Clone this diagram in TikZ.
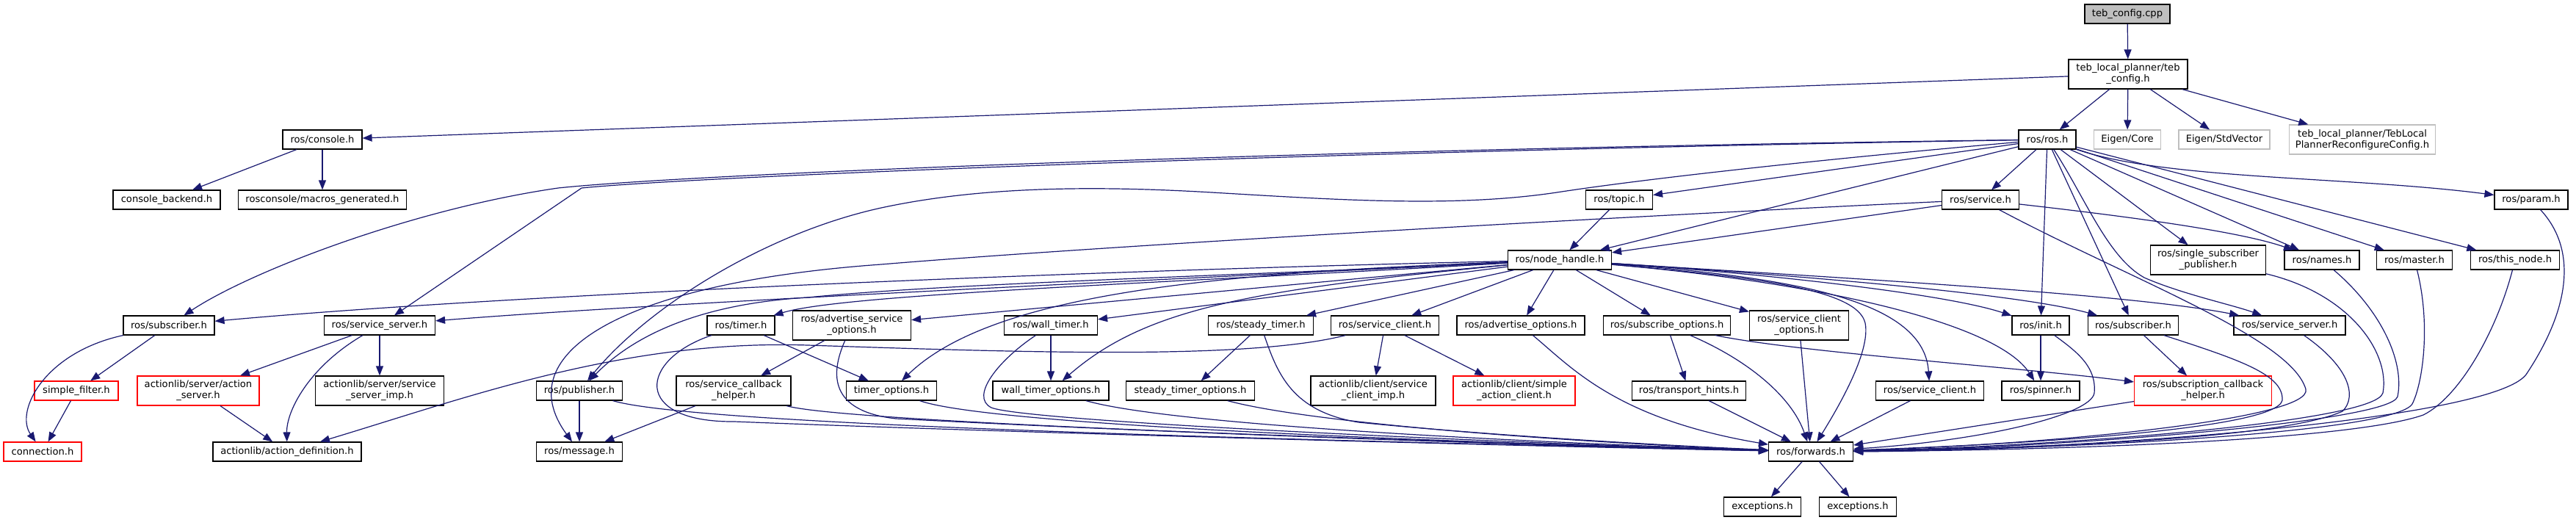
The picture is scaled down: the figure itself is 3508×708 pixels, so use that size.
\documentclass[tikz,border=0pt]{standalone}
\usepackage{fontspec}
\setmainfont{DejaVu Sans}
\usetikzlibrary{arrows.meta}
\definecolor{edgec}{RGB}{25,25,112}
\definecolor{grayb}{RGB}{191,191,191}
\definecolor{redb}{RGB}{255,0,0}
\begin{document}
\begin{tikzpicture}[x=1pt,y=-1pt,
  nd/.style={draw=black, line width=1.15pt, fill=white, inner sep=0pt, align=center,
             font=\fontsize{13.1}{15}\selectfont, minimum height=26pt},
  two/.style={minimum height=40pt},
  gr/.style={draw=grayb},
  rd/.style={draw=redb},
  e/.style={draw=edgec, line width=1.2pt, -{Triangle[length=13pt,width=10pt]}},
]
\useasboundingbox (0,0) rectangle (3508,708);
% row 0-2
\node[nd, fill=grayb, minimum width=116pt] (cpp) at (2897,19) {teb\_config.cpp};
\node[nd, two, minimum width=162pt] (tebh) at (2898,101) {teb\_local\_planner/teb\\\_config.h};
\node[nd, minimum width=108pt] (console) at (439,190) {ros/console.h};
\node[nd, minimum width=78pt] (ros) at (2788,190) {ros/ros.h};
\node[nd, gr, minimum width=91pt] (eigc) at (2897,190) {Eigen/Core};
\node[nd, gr, minimum width=124pt] (eigs) at (3029,190) {Eigen/StdVector};
\node[nd, gr, two, minimum width=199pt] (tebrc) at (3217,190) {teb\_local\_planner/TebLocal\\PlannerReconfigureConfig.h};
\node[nd, minimum width=146pt] (cback) at (227,272) {console\_backend.h};
\node[nd, minimum width=229pt] (macros) at (439,272) {rosconsole/macros\_generated.h};
\node[nd, minimum width=91pt] (topic) at (2205,272) {ros/topic.h};
\node[nd, minimum width=105pt] (service) at (2697,272) {ros/service.h};
\node[nd, minimum width=100pt] (param) at (3447,272) {ros/param.h};
% row node_handle
\node[nd, minimum width=141pt] (nh) at (2124,354) {ros/node\_handle.h};
\node[nd, two, minimum width=157pt] (ssp) at (3007,354) {ros/single\_subscriber\\\_publisher.h};
\node[nd, minimum width=102pt] (names) at (3162,354) {ros/names.h};
\node[nd, minimum width=103pt] (master) at (3288,354) {ros/master.h};
\node[nd, minimum width=121pt] (thisnode) at (3425,354) {ros/this\_node.h};
% row 3
\node[nd, minimum width=124pt] (sub1) at (230,443) {ros/subscriber.h};
\node[nd, minimum width=151pt] (ss1) at (517,443) {ros/service\_server.h};
\node[nd, minimum width=92pt] (timer) at (1009,443) {ros/timer.h};
\node[nd, two, minimum width=161pt] (aso) at (1160,443) {ros/advertise\_service\\\_options.h};
\node[nd, minimum width=127pt] (wtimer) at (1431,443) {ros/wall\_timer.h};
\node[nd, minimum width=143pt] (sttimer) at (1717,443) {ros/steady\_timer.h};
\node[nd, minimum width=147pt] (sc1) at (1886,443) {ros/service\_client.h};
\node[nd, minimum width=174pt] (advo) at (2071,443) {ros/advertise\_options.h};
\node[nd, minimum width=173pt] (subo) at (2270,443) {ros/subscribe\_options.h};
\node[nd, two, minimum width=135pt] (sco) at (2450,443) {ros/service\_client\\\_options.h};
\node[nd, minimum width=78pt] (init) at (2779,443) {ros/init.h};
\node[nd, minimum width=123pt] (sub2) at (2905,443) {ros/subscriber.h};
\node[nd, minimum width=152pt] (ss2) at (3118,443) {ros/service\_server.h};
% row 4
\node[nd, rd, minimum width=114pt] (sfilter) at (104,532) {simple\_filter.h};
\node[nd, rd, two, minimum width=166pt] (aserver) at (270,532) {actionlib/server/action\\\_server.h};
\node[nd, two, minimum width=175pt] (ssimp) at (517,532) {actionlib/server/service\\\_server\_imp.h};
\node[nd, minimum width=117pt] (pub) at (789,532) {ros/publisher.h};
\node[nd, two, minimum width=156pt] (sch) at (999,532) {ros/service\_callback\\\_helper.h};
\node[nd, minimum width=123pt] (topt) at (1214,532) {timer\_options.h};
\node[nd, minimum width=158pt] (wtopt) at (1431,532) {wall\_timer\_options.h};
\node[nd, minimum width=175pt] (stopt) at (1621,532) {steady\_timer\_options.h};
\node[nd, two, minimum width=170pt] (scimp) at (1870,532) {actionlib/client/service\\\_client\_imp.h};
\node[nd, rd, two, minimum width=166pt] (sac) at (2062,532) {actionlib/client/simple\\\_action\_client.h};
\node[nd, minimum width=155pt] (thints) at (2300,532) {ros/transport\_hints.h};
\node[nd, minimum width=147pt] (sc2) at (2628,532) {ros/service\_client.h};
\node[nd, minimum width=106pt] (spinner) at (2779,532) {ros/spinner.h};
\node[nd, rd, two, minimum width=187pt] (sch2) at (3000,532) {ros/subscription\_callback\\\_helper.h};
% row 5-6
\node[nd, rd, minimum width=106pt] (conn) at (58,615) {connection.h};
\node[nd, minimum width=202pt] (adef) at (391,615) {actionlib/action\_definition.h};
\node[nd, minimum width=117pt] (msg) at (789,615) {ros/message.h};
\node[nd, minimum width=115pt] (fwd) at (2466,615) {ros/forwards.h};
\node[nd, minimum width=105pt] (exc1) at (2400,690) {exceptions.h};
\node[nd, minimum width=105pt] (exc2) at (2530,690) {exceptions.h};

% edges
\draw[e] (cpp) -- (tebh);
\draw[e] (tebh) -- (console);
\draw[e] (tebh) -- (ros);
\draw[e] (tebh) -- (eigc);
\draw[e] (tebh) -- (eigs);
\draw[e] (tebh) -- (tebrc);
\draw[e] (console) -- (cback);
\draw[e] (console) -- (macros);
% ros/ros.h
\draw[e] (ros) .. controls (1800,203) and (950,236) .. (760,256) .. controls (560,285) and (340,370) .. (sub1);
\draw[e] (ros) .. controls (1800,206) and (950,240) .. (792,256) -- (ss1);
\draw[e] (ros) .. controls (2500,215) and (2250,242) .. (2120,262) .. controls (1980,283) and (1820,272) .. (1650,262) .. controls (1480,252) and (1330,255) .. (1200,283) .. controls (1040,318) and (880,420) .. (pub);
\draw[e] (ros) -- (topic);
\draw[e] (ros) -- (nh);
\draw[e] (ros) -- (service);
\draw[e] (ros) -- (init);
\draw[e] (ros) -- (sub2);
\draw[e] (ros) .. controls (2840,270) and (2870,350) .. (2920,378) .. controls (2970,400) and (3040,415) .. (ss2);
\draw[e] (ros) -- (ssp);
\draw[e] (ros) -- (names);
\draw[e] (ros) -- (master);
\draw[e] (ros) -- (thisnode);
\draw[e] (ros) .. controls (2950,245) and (3200,240) .. (param);
% ros/service.h
\draw[e] (service) -- (nh);
\draw[e] (service) .. controls (2200,295) and (1500,335) .. (1200,360) .. controls (850,385) and (690,480) .. (msg);
\draw[e] (service) .. controls (2900,295) and (3050,315) .. (names);
\draw[e] (service) .. controls (2900,380) and (3120,460) .. (3140,530) .. controls (3150,570) and (2800,605) .. (fwd);
\draw[e] (topic) -- (nh);
% ros/node_handle.h
\draw[e] (nh) .. controls (1500,368) and (700,400) .. (sub1);
\draw[e] (nh) .. controls (1600,380) and (900,412) .. (ss1);
\draw[e] (nh) .. controls (1600,385) and (1150,400) .. (timer);
\draw[e] (nh) -- (aso);
\draw[e] (nh) .. controls (1700,375) and (1300,385) .. (1100,405) .. controls (930,415) and (850,470) .. (pub);
\draw[e] (nh) .. controls (1650,372) and (1350,400) .. (topt);
\draw[e] (nh) -- (wtimer);
\draw[e] (nh) .. controls (1700,395) and (1560,420) .. (wtopt);
\draw[e] (nh) -- (sttimer);
\draw[e] (nh) -- (sc1);
\draw[e] (nh) -- (advo);
\draw[e] (nh) -- (subo);
\draw[e] (nh) -- (sco);
\draw[e] (nh) .. controls (2400,372) and (2650,400) .. (init);
\draw[e] (nh) .. controls (2450,375) and (2750,400) .. (sub2);
\draw[e] (nh) .. controls (2500,378) and (2900,400) .. (ss2);
\draw[e] (nh) .. controls (2450,378) and (2620,410) .. (sc2);
\draw[e] (nh) .. controls (2480,385) and (2720,440) .. (spinner);
\draw[e] (nh) .. controls (2400,378) and (2530,395) .. (2540,440) .. controls (2548,480) and (2500,560) .. (fwd);
% row 3 sources
\draw[e] (sub1) -- (sfilter);
\draw[e] (sub1) .. controls (60,480) and (20,560) .. (conn);
\draw[e] (sfilter) -- (conn);
\draw[e] (ss1) -- (aserver);
\draw[e] (ss1) -- (ssimp);
\draw[e] (ss1) .. controls (420,500) and (390,560) .. (adef);
\draw[e] (aserver) -- (adef);
\draw[e] (timer) -- (topt);
\draw[e] (timer) .. controls (870,490) and (860,575) .. (1000,574) .. controls (1400,590) and (2100,608) .. (fwd);
\draw[e] (aso) -- (sch);
\draw[e] (aso) .. controls (1130,510) and (1130,560) .. (1220,570) .. controls (1600,590) and (2100,607) .. (fwd);
\draw[e] (wtimer) -- (wtopt);
\draw[e] (wtimer) .. controls (1360,490) and (1320,540) .. (1350,555) .. controls (1400,575) and (2100,605) .. (fwd);
\draw[e] (sttimer) -- (stopt);
\draw[e] (sttimer) .. controls (1740,510) and (1760,560) .. (1850,575) .. controls (2050,595) and (2300,608) .. (fwd);
\draw[e] (sc1) -- (scimp);
\draw[e] (sc1) -- (sac);
\draw[e] (sc1) .. controls (1700,490) and (1400,480) .. (1100,470) .. controls (850,462) and (640,540) .. (adef);
\draw[e] (advo) .. controls (2140,500) and (2200,570) .. (fwd);
\draw[e] (subo) -- (thints);
\draw[e] (subo) .. controls (2380,490) and (2440,540) .. (fwd);
\draw[e] (subo) .. controls (2450,480) and (2750,500) .. (sch2);
\draw[e] (sco) -- (fwd);
\draw[e] (init) -- (spinner);
\draw[e] (init) .. controls (2830,480) and (2855,500) .. (2852,535) .. controls (2848,565) and (2700,600) .. (fwd);
\draw[e] (sub2) -- (sch2);
\draw[e] (sub2) .. controls (3050,490) and (3110,510) .. (3108,545) .. controls (3100,585) and (2750,605) .. (fwd);
\draw[e] (ss2) .. controls (3200,500) and (3210,540) .. (3190,560) .. controls (3100,600) and (2750,610) .. (fwd);
\draw[e] (ssp) .. controls (3200,400) and (3255,480) .. (3245,535) .. controls (3235,575) and (2800,608) .. (fwd);
\draw[e] (names) .. controls (3240,420) and (3275,490) .. (3265,540) .. controls (3255,575) and (2800,610) .. (fwd);
\draw[e] (master) .. controls (3310,440) and (3300,520) .. (3285,550) .. controls (3260,590) and (2800,612) .. (fwd);
\draw[e] (thisnode) .. controls (3400,450) and (3350,540) .. (3300,565) .. controls (3200,600) and (2800,613) .. (fwd);
\draw[e] (param) .. controls (3510,340) and (3500,420) .. (3440,510) .. controls (3390,575) and (2800,614) .. (fwd);
% row 4 sources
\draw[e] (pub) -- (msg);
\draw[e] (pub) .. controls (950,580) and (1800,600) .. (fwd);
\draw[e] (sch) -- (msg);
\draw[e] (sch) .. controls (1150,575) and (1900,600) .. (fwd);
\draw[e] (topt) .. controls (1350,580) and (2000,603) .. (fwd);
\draw[e] (wtopt) .. controls (1600,580) and (2100,603) .. (fwd);
\draw[e] (stopt) .. controls (1800,580) and (2200,605) .. (fwd);
\draw[e] (thints) -- (fwd);
\draw[e] (sc2) -- (fwd);
\draw[e] (sch2) -- (fwd);
\draw[e] (fwd) -- (exc1);
\draw[e] (fwd) -- (exc2);
\end{tikzpicture}
\end{document}
